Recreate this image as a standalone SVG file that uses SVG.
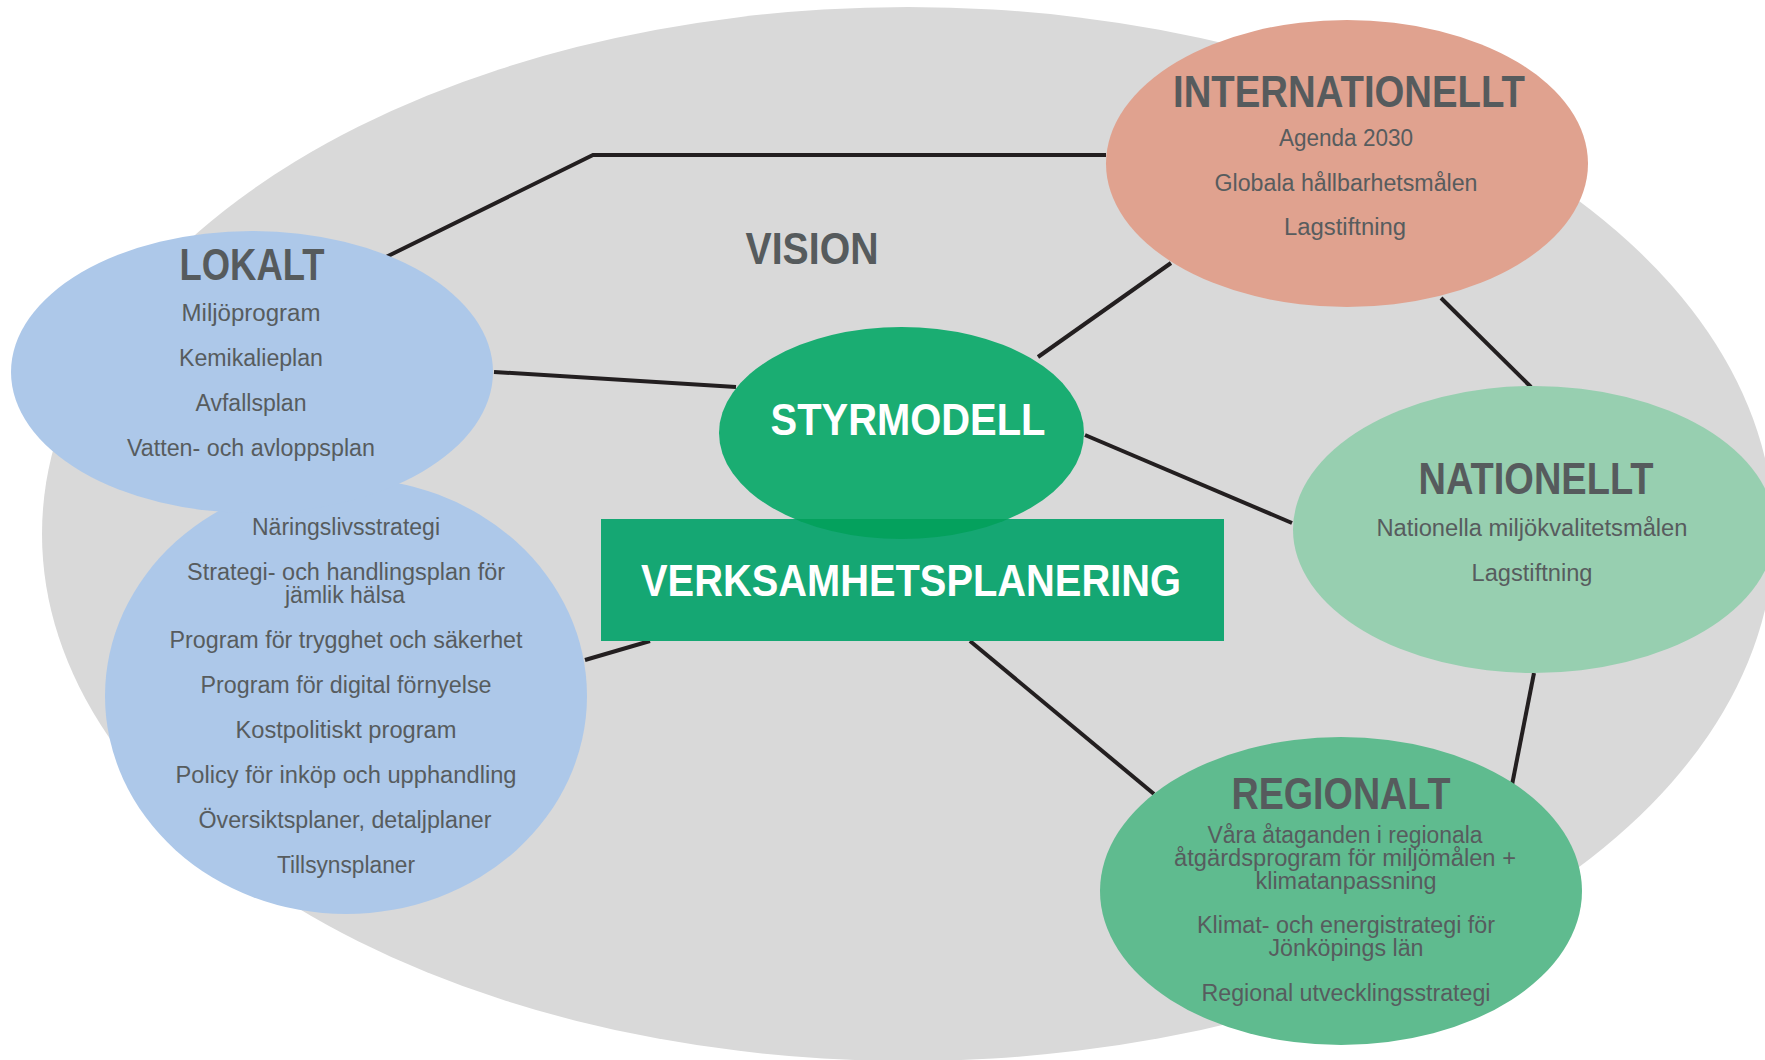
<svg xmlns="http://www.w3.org/2000/svg" width="1765" height="1060" viewBox="0 0 1765 1060">
<defs>
<style>
.bg{fill:#d9d9d9}
.blue{fill:#adc8e9}
.int{fill:#e0a28f}
.nat{fill:#97cfb0}
.reg{fill:#5fbb8f}
.sty{fill:#1aad72}
.verk{fill:#15a773}
.ovl{fill:#04a15d}
.con{fill:none;stroke:#231f20;stroke-width:4;stroke-linejoin:miter}
.h{font-family:"Liberation Sans",Arial,sans-serif;font-weight:bold;font-size:44px;fill:#565b5d;text-anchor:middle}
.t{font-family:"Liberation Sans",Arial,sans-serif;font-size:23px;fill:#575c5e;text-anchor:middle}
.w{font-family:"Liberation Sans",Arial,sans-serif;font-weight:bold;font-size:44px;fill:#ffffff;text-anchor:middle}
</style>
<clipPath id="rectclip"><rect x="601" y="519" width="623" height="122"/></clipPath>
</defs>
<rect width="1765" height="1060" fill="#ffffff"/>
<ellipse class="bg" cx="908" cy="534" rx="866" ry="527"/>
<text class="h" x="812" y="264" font-size="42" textLength="133" lengthAdjust="spacingAndGlyphs">VISION</text>
<g id="connectors">
<polyline class="con" points="386,257 593,155 1106,155"/>
<line class="con" x1="494" y1="372" x2="736" y2="387"/>
<line class="con" x1="1038" y1="357" x2="1171" y2="263"/>
<line class="con" x1="1085" y1="435" x2="1292" y2="523"/>
<line class="con" x1="1441" y1="298" x2="1531" y2="387"/>
<line class="con" x1="1534" y1="673" x2="1511" y2="790"/>
<line class="con" x1="970" y1="641" x2="1154" y2="794"/>
<line class="con" x1="585" y1="660" x2="650" y2="641"/>
</g>
<g id="lokalt-nedre">
<ellipse class="blue" cx="346" cy="696" rx="241" ry="218"/>
<text class="t" x="346" y="535" textLength="188" lengthAdjust="spacingAndGlyphs">Näringslivsstrategi</text>
<text class="t" x="346" y="580" textLength="318" lengthAdjust="spacingAndGlyphs">Strategi- och handlingsplan för</text>
<text class="t" x="345" y="603" textLength="120" lengthAdjust="spacingAndGlyphs">jämlik hälsa</text>
<text class="t" x="346" y="648" textLength="353" lengthAdjust="spacingAndGlyphs">Program för trygghet och säkerhet</text>
<text class="t" x="346" y="693" textLength="291" lengthAdjust="spacingAndGlyphs">Program för digital förnyelse</text>
<text class="t" x="346" y="738" textLength="221" lengthAdjust="spacingAndGlyphs">Kostpolitiskt program</text>
<text class="t" x="346" y="783" textLength="341" lengthAdjust="spacingAndGlyphs">Policy för inköp och upphandling</text>
<text class="t" x="345" y="828" textLength="293" lengthAdjust="spacingAndGlyphs">Översiktsplaner, detaljplaner</text>
<text class="t" x="346" y="873" textLength="138" lengthAdjust="spacingAndGlyphs">Tillsynsplaner</text>
</g>
<g id="lokalt">
<ellipse class="blue" cx="252" cy="372" rx="241" ry="141"/>
<text class="h" x="252" y="280" textLength="145" lengthAdjust="spacingAndGlyphs">LOKALT</text>
<text class="t" x="251" y="321" textLength="139" lengthAdjust="spacingAndGlyphs">Miljöprogram</text>
<text class="t" x="251" y="366" textLength="144" lengthAdjust="spacingAndGlyphs">Kemikalieplan</text>
<text class="t" x="251" y="411" textLength="111" lengthAdjust="spacingAndGlyphs">Avfallsplan</text>
<text class="t" x="251" y="456" textLength="248" lengthAdjust="spacingAndGlyphs">Vatten- och avloppsplan</text>
</g>
<g id="internationellt">
<ellipse class="int" cx="1347" cy="163.5" rx="241" ry="143.5"/>
<text class="h" x="1349" y="107" textLength="352" lengthAdjust="spacingAndGlyphs">INTERNATIONELLT</text>
<text class="t" x="1346" y="146" textLength="134" lengthAdjust="spacingAndGlyphs">Agenda 2030</text>
<text class="t" x="1346" y="191" textLength="263" lengthAdjust="spacingAndGlyphs">Globala hållbarhetsmålen</text>
<text class="t" x="1345" y="235" textLength="122" lengthAdjust="spacingAndGlyphs">Lagstiftning</text>
</g>
<g id="nationellt">
<ellipse class="nat" cx="1534" cy="529.5" rx="241" ry="143.5"/>
<text class="h" x="1536" y="494" textLength="235" lengthAdjust="spacingAndGlyphs">NATIONELLT</text>
<text class="t" x="1532" y="536" textLength="311" lengthAdjust="spacingAndGlyphs">Nationella miljökvalitetsmålen</text>
<text class="t" x="1532" y="581" textLength="121" lengthAdjust="spacingAndGlyphs">Lagstiftning</text>
</g>
<g id="regionalt">
<ellipse class="reg" cx="1341" cy="891" rx="241" ry="154"/>
<text class="h" x="1341" y="809" textLength="219" lengthAdjust="spacingAndGlyphs">REGIONALT</text>
<text class="t" x="1345" y="843" textLength="275" lengthAdjust="spacingAndGlyphs">Våra åtaganden i regionala</text>
<text class="t" x="1345" y="866" textLength="342" lengthAdjust="spacingAndGlyphs">åtgärdsprogram för miljömålen +</text>
<text class="t" x="1346" y="889" textLength="181" lengthAdjust="spacingAndGlyphs">klimatanpassning</text>
<text class="t" x="1346" y="933" textLength="298" lengthAdjust="spacingAndGlyphs">Klimat- och energistrategi för</text>
<text class="t" x="1346" y="956" textLength="155" lengthAdjust="spacingAndGlyphs">Jönköpings län</text>
<text class="t" x="1346" y="1001" textLength="289" lengthAdjust="spacingAndGlyphs">Regional utvecklingsstrategi</text>
</g>
<g id="styrmodell">
<ellipse class="sty" cx="901.5" cy="433" rx="182.5" ry="106"/>
<text class="w" x="908" y="435" textLength="275" lengthAdjust="spacingAndGlyphs">STYRMODELL</text>
</g>
<g id="verksamhetsplanering">
<rect class="verk" x="601" y="519" width="623" height="122"/>
<ellipse class="ovl" cx="901.5" cy="433" rx="182.5" ry="106" clip-path="url(#rectclip)"/>
<text class="w" x="911" y="596" font-size="45" textLength="540" lengthAdjust="spacingAndGlyphs">VERKSAMHETSPLANERING</text>
</g>
</svg>
